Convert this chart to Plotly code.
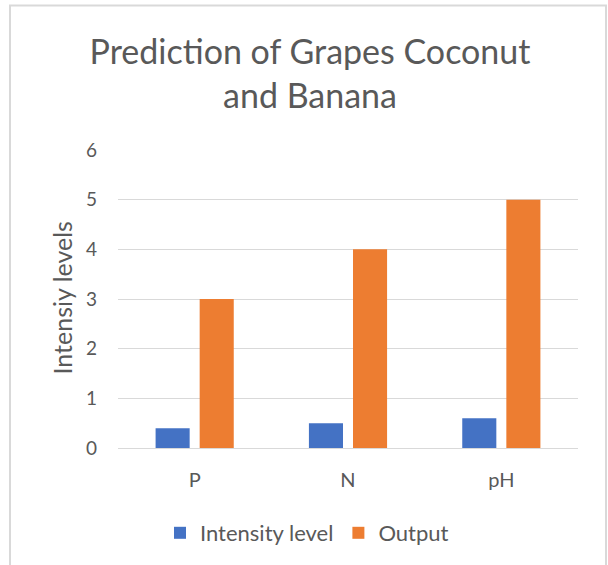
import plotly.graph_objects as go

categories = ["P", "N", "pH"]
intensity_level = [0.4, 0.5, 0.6]
output = [3, 4, 5]
y_ticks = [0, 1, 2, 3, 4, 5, 6]

W, H = 608, 565
L, R, T, B = 118, 30, 150, 116
pw, ph = W - L - R, H - T - B

def px(x):
    return (x - L) / pw

def py(y):
    return (H - B - y) / ph

font = "Lato, Carlito, Calibri, sans-serif"
grey = "#595959"

fig = go.Figure()
fig.add_trace(go.Bar(x=categories, y=intensity_level, name="Intensity level",
                     marker=dict(color="#4472C4", line=dict(width=0))))
fig.add_trace(go.Bar(x=categories, y=output, name="Output",
                     marker=dict(color="#ED7D31", line=dict(width=0))))

fig.update_layout(
    width=W, height=H,
    margin=dict(l=L, r=R, t=T, b=B),
    paper_bgcolor="white", plot_bgcolor="white",
    barmode="group", bargap=0.425, bargroupgap=0.227,
    font=dict(family=font, color=grey, size=19),
    title=dict(text="Prediction of Grapes Coconut<br>and Banana",
               x=310 / W, xanchor="center", xref="container",
               y=1 - 64 / H, yanchor="top", yref="container",
               font=dict(size=34, color=grey, family=font)),
    xaxis=dict(showgrid=False, showline=False, ticks="", ticklabelstandoff=18,
               tickfont=dict(size=20, color=grey)),
    yaxis=dict(range=[0, 6], tickvals=y_ticks, showgrid=True, gridcolor="#d9d9d9",
               gridwidth=1, zeroline=True, zerolinecolor="#d9d9d9", zerolinewidth=1,
               ticks="", ticklabelstandoff=20, tickfont=dict(size=19, color=grey)),
    legend=dict(orientation="h", x=px(160), xanchor="left", y=py(533), yanchor="middle",
                font=dict(size=22, color=grey), itemwidth=30, traceorder="normal"),
    showlegend=True,
)

fig.add_annotation(text="Intensiy levels", textangle=-90, x=px(62), y=py(299),
                   xref="paper", yref="paper", showarrow=False, xanchor="center",
                   yanchor="middle", font=dict(size=25, color=grey, family=font))

fig.add_shape(type="rect", xref="paper", yref="paper",
              x0=px(10), x1=px(606), y0=py(600), y1=py(5),
              line=dict(color="#d9d9d9", width=2), fillcolor="rgba(0,0,0,0)", layer="below")

fig.write_html("out.html", config={"displayModeBar": False},
               post_script="document.body.style.margin='0';")
